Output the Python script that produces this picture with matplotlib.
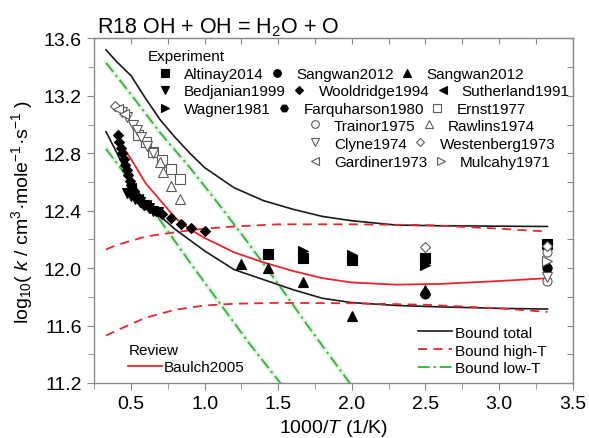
import matplotlib
matplotlib.use("Agg")
import matplotlib.pyplot as plt
from matplotlib.lines import Line2D
from matplotlib.ticker import MultipleLocator, FormatStrFormatter

plt.rcParams['font.family'] = ['Liberation Sans', 'DejaVu Sans']
plt.rcParams['mathtext.fontset'] = 'custom'
plt.rcParams['mathtext.rm'] = 'Liberation Sans'
plt.rcParams['mathtext.it'] = 'Liberation Sans:italic'

# ---- uncertainty bounds and review fit (x = 1000/T, y = log10 k) ----
x_total_up = [0.33, 0.4, 0.5, 0.6, 0.7, 0.8, 0.9, 1.0, 1.2, 1.4, 1.6, 1.8, 2.0, 2.3, 2.6, 3.0, 3.33]
y_total_up = [13.52, 13.44, 13.34, 13.18, 13.03, 12.91, 12.80, 12.70, 12.56, 12.47, 12.41, 12.36, 12.33, 12.30, 12.295, 12.292, 12.29]

x_total_lo = [0.33, 0.4, 0.5, 0.6, 0.7, 0.8, 1.0, 1.2, 1.4, 1.6, 1.8, 2.0, 2.3, 2.6, 3.0, 3.33]
y_total_lo = [12.95, 12.81, 12.60, 12.44, 12.36, 12.27, 12.12, 11.99, 11.92, 11.85, 11.79, 11.76, 11.74, 11.73, 11.72, 11.715]

x_highT_up = [0.33, 0.4, 0.5, 0.6, 0.8, 1.0, 1.2, 1.5, 2.0, 2.5, 2.8, 3.0, 3.2, 3.33]
y_highT_up = [12.13, 12.16, 12.19, 12.22, 12.25, 12.275, 12.29, 12.305, 12.305, 12.30, 12.285, 12.275, 12.262, 12.255]

x_highT_lo = [0.33, 0.4, 0.5, 0.6, 0.8, 1.0, 1.2, 1.5, 2.0, 2.5, 2.8, 3.0, 3.2, 3.33]
y_highT_lo = [11.53, 11.565, 11.61, 11.655, 11.71, 11.74, 11.752, 11.758, 11.755, 11.745, 11.73, 11.72, 11.705, 11.695]

x_lowT_up = [0.33, 0.5, 0.7, 0.9, 1.1, 1.3, 1.5, 1.7, 1.9, 2.0]
y_lowT_up = [13.43, 13.21, 12.94, 12.70, 12.44, 12.17, 11.89, 11.60, 11.32, 11.18]

x_lowT_lo = [0.33, 0.5, 0.7, 0.9, 1.1, 1.3, 1.53]
y_lowT_lo = [12.83, 12.60, 12.33, 12.04, 11.76, 11.48, 11.18]

x_baulch = [0.42, 0.5, 0.6, 0.7, 0.8, 0.9, 1.0, 1.2, 1.4, 1.6, 1.8, 2.0, 2.3, 2.6, 3.0, 3.33]
y_baulch = [12.88, 12.76, 12.59, 12.47, 12.35, 12.27, 12.21, 12.11, 12.04, 11.98, 11.93, 11.90, 11.885, 11.89, 11.91, 11.93]

# ---- experimental data ----
x_altinay = [1.43, 1.67, 2.0, 2.5, 3.33]
y_altinay = [12.10, 12.07, 12.06, 12.07, 12.17]

x_sangwan_c = [2.5, 3.33]
y_sangwan_c = [11.82, 12.00]

x_sangwan_t = [1.25, 1.43, 1.67, 2.0, 2.5]
y_sangwan_t = [12.03, 12.00, 11.90, 11.67, 11.85]

x_bedjanian = [0.47, 0.50, 0.53, 0.56, 0.59, 0.62, 0.65, 0.68]
y_bedjanian = [12.52, 12.50, 12.48, 12.46, 12.44, 12.42, 12.40, 12.39]

x_wooldridge = [0.41, 0.42, 0.43, 0.44, 0.45, 0.46, 0.47, 0.48, 0.49, 0.50, 0.52, 0.54,
                0.56, 0.59, 0.63, 0.67, 0.71, 0.77, 0.84, 0.91, 1.0]
y_wooldridge = [12.93, 12.88, 12.84, 12.80, 12.76, 12.72, 12.68, 12.65, 12.61, 12.58, 12.54, 12.50,
                12.47, 12.44, 12.42, 12.40, 12.38, 12.35, 12.31, 12.28, 12.26]

x_sutherland = [0.50, 0.55, 0.60]
y_sutherland = [12.56, 12.48, 12.44]

x_wagner = [1.67, 2.0, 2.5]
y_wagner = [12.12, 12.09, 12.02]

x_farquharson = [2.5, 3.33]
y_farquharson = [11.83, 12.01]

x_ernst = [0.55, 0.60, 0.65, 0.71, 0.77, 0.83]
y_ernst = [12.93, 12.88, 12.81, 12.75, 12.69, 12.62]

x_trainor = [3.33, 3.33]
y_trainor = [12.11, 11.91]

x_rawlins = [0.70, 0.72, 0.77, 0.835]
y_rawlins = [12.74, 12.67, 12.57, 12.48]

x_clyne = [0.44, 0.47, 0.51, 0.54, 0.57, 0.61, 0.65, 3.33]
y_clyne = [13.085, 13.05, 13.00, 12.96, 12.91, 12.85, 12.80, 11.935]

x_westenberg = [0.39, 2.5, 3.33]
y_westenberg = [13.13, 12.145, 12.155]

x_gardiner = [0.41, 0.45]
y_gardiner = [13.11, 13.07]

x_mulcahy = [3.33]
y_mulcahy = [12.05]

RED = '#e8252e'
GREEN = '#3fb53f'
BLACK = '#1a1a1a'
SPINE = '#8a8a8a'

fig = plt.figure(figsize=(5.89, 4.39), dpi=100)
ax = fig.add_axes([0.160, 0.1253, 0.812, 0.785])

# bounds
for xs, ys in [(x_total_up, y_total_up), (x_total_lo, y_total_lo)]:
    ax.plot(xs, ys, color=BLACK, lw=1.2, zorder=3)
for xs, ys in [(x_highT_up, y_highT_up), (x_highT_lo, y_highT_lo)]:
    ax.plot(xs, ys, color=RED, lw=1.3, dashes=(5, 3.5), zorder=3)
for xs, ys in [(x_lowT_up, y_lowT_up), (x_lowT_lo, y_lowT_lo)]:
    ax.plot(xs, ys, color=GREEN, lw=4, alpha=0.12, solid_capstyle='round', zorder=2)
    ax.plot(xs, ys, color=GREEN, lw=1.4, dashes=(6, 2, 1.2, 2), zorder=3)
ax.plot(x_baulch, y_baulch, color=RED, lw=1.3, zorder=3)

ms = 6.5
rows_exp = [
    [(x_altinay, y_altinay, 's', True, 'Altinay2014'),
     (x_sangwan_c, y_sangwan_c, 'o', True, 'Sangwan2012'),
     (x_sangwan_t, y_sangwan_t, '^', True, 'Sangwan2012')],
    [(x_bedjanian, y_bedjanian, 'v', True, 'Bedjanian1999'),
     (x_wooldridge, y_wooldridge, 'D', True, 'Wooldridge1994'),
     (x_sutherland, y_sutherland, '<', True, 'Sutherland1991')],
    [(x_wagner, y_wagner, '>', True, 'Wagner1981'),
     (x_farquharson, y_farquharson, 'H', True, 'Farquharson1980'),
     (x_ernst, y_ernst, 's', False, 'Ernst1977')],
    [(x_trainor, y_trainor, 'o', False, 'Trainor1975'),
     (x_rawlins, y_rawlins, '^', False, 'Rawlins1974')],
    [(x_clyne, y_clyne, 'v', False, 'Clyne1974'),
     (x_westenberg, y_westenberg, 'D', False, 'Westenberg1973')],
    [(x_gardiner, y_gardiner, '<', False, 'Gardiner1973'),
     (x_mulcahy, y_mulcahy, '>', False, 'Mulcahy1971')],
]

def style(m, filled, size):
    size = size * (0.8 if m == 'D' else 1.0)
    if filled:
        return dict(marker=m, ls='none', ms=size, mfc='black', mec='black', mew=0.8)
    return dict(marker=m, ls='none', ms=size, mfc='white', mec='#5a5a5a', mew=0.8)

row_handles = []
for row in rows_exp:
    hs = []
    for xs, ys, m, filled, lab in row:
        ax.plot(xs, ys, zorder=4, **style(m, filled, ms))
        hs.append(Line2D([], [], label=lab, **style(m, filled, 5.5)))
    row_handles.append(hs)

ax.set_xlim(0.25, 3.5)
ax.set_ylim(11.2, 13.6)
ax.xaxis.set_major_locator(MultipleLocator(0.5))
ax.xaxis.set_minor_locator(MultipleLocator(0.25))
ax.yaxis.set_major_locator(MultipleLocator(0.4))
ax.yaxis.set_minor_locator(MultipleLocator(0.2))
ax.xaxis.set_major_formatter(FormatStrFormatter('%.1f'))
ax.yaxis.set_major_formatter(FormatStrFormatter('%.1f'))

for s in ax.spines.values():
    s.set_color(SPINE)
    s.set_linewidth(1.0)
ax.tick_params(which='both', direction='out', top=False, right=False, color=SPINE,
               labelsize=14, pad=4)
ax.tick_params(which='major', length=5)
ax.tick_params(which='minor', length=4)

top = ax.secondary_xaxis('top')
top.xaxis.set_major_locator(MultipleLocator(0.25))
top.tick_params(direction='in', length=4, color=SPINE, labeltop=False)
top.spines['top'].set_color(SPINE)
right = ax.secondary_yaxis('right')
right.yaxis.set_major_locator(MultipleLocator(0.2))
right.tick_params(direction='in', length=4, color=SPINE, labelright=False)
right.spines['right'].set_color(SPINE)

ax.set_xlabel('1000/$T$ (1/K)', fontsize=14, labelpad=3)
ax.set_ylabel('log$_{10}$( $k$ / cm$^3$·mole$^{-1}$·s$^{-1}$ )', fontsize=14, labelpad=6)
ax.set_title('R18 OH + OH = H$_2$O + O', loc='left', fontsize=15.5, pad=3, x=0.005)

# experiment legend: one flowing row per legend
ax.text(0.112, 0.948, 'Experiment', transform=ax.transAxes, fontsize=11,
        ha='left', va='center')
row_anchor = [(0.132, 0.897), (0.132, 0.846), (0.132, 0.795),
              (0.4455, 0.747), (0.4455, 0.694), (0.4455, 0.641)]
for hs, (ax_x, ax_y) in zip(row_handles, row_anchor):
    lg = ax.legend(handles=hs, ncol=len(hs), loc='center left',
                   bbox_to_anchor=(ax_x, ax_y), frameon=False, fontsize=11,
                   handlelength=1.0, handletextpad=0.75, columnspacing=0.38,
                   borderpad=0.0, borderaxespad=0.0)
    ax.add_artist(lg)

# review legend
h_rev = [Line2D([], [], color=RED, lw=1.3, label='Baulch2005')]
leg3 = ax.legend(handles=h_rev, title='Review', loc='lower left',
                 bbox_to_anchor=(0.049, -0.005), frameon=False, fontsize=11,
                 title_fontsize=11, handlelength=2.2, handletextpad=0.1,
                 borderpad=0.2)
leg3._legend_box.align = 'left'
leg3._legend_box.sep = 2
ax.add_artist(leg3)

# bounds legend
h_b = [Line2D([], [], color=BLACK, lw=1.2, label='Bound total'),
       Line2D([], [], color=RED, lw=1.3, dashes=(5, 3.5), label='Bound high-T'),
       Line2D([], [], color=GREEN, lw=1.4, dashes=(6, 2, 1.2, 2), label='Bound low-T')]
ax.legend(handles=h_b, loc='lower right', bbox_to_anchor=(0.969, -0.009), frameon=False,
          fontsize=11, handlelength=2.2, handletextpad=0.25, labelspacing=0.25,
          borderpad=0.2)

fig.savefig('out.png', dpi=100)
